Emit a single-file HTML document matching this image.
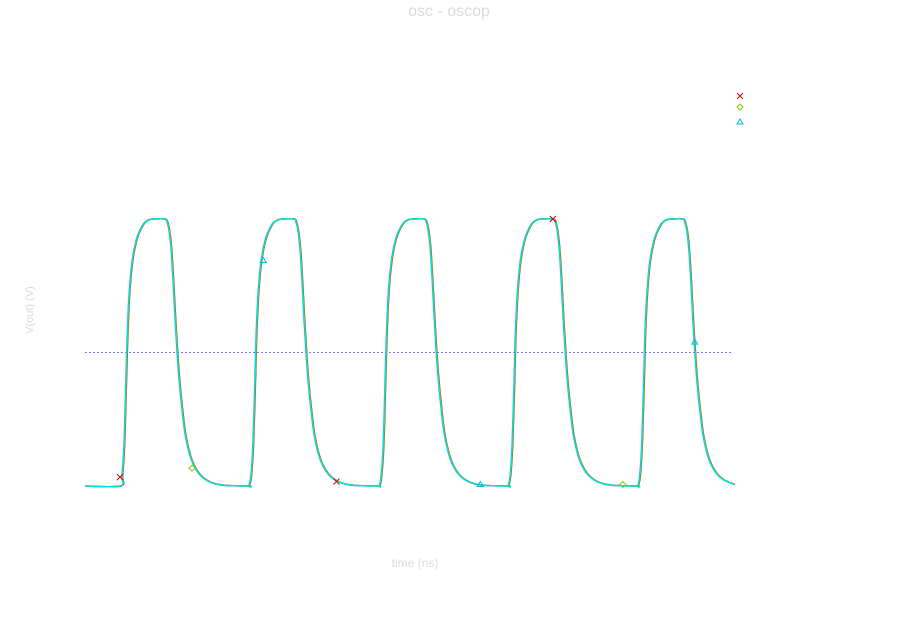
<!DOCTYPE html>
<html><head><meta charset="utf-8"><style>
body{margin:0;background:#fff;}
svg{display:block;font-family:"Liberation Sans",sans-serif;}
</style></head><body>
<svg id="chart" width="898" height="633">
<text x="449" y="16" text-anchor="middle" font-size="16" fill="#dcdcdc">osc - oscop</text>
<text x="415" y="567" text-anchor="middle" font-size="12" fill="#dcdcdc">time (ns)</text>
<text transform="translate(33,310) rotate(-90)" text-anchor="middle" font-size="11" fill="#dcdcdc">V(out) (V)</text>
<g id="plot"></g>
<g>
<path d="M737,93 L743,99 M737,99 L743,93" stroke="#e00"/>
<path d="M740,104 L743,107 L740,110 L737,107 Z" fill="none" stroke="#8c0"/>
<path d="M740,119 L743,124 L737,124 Z" fill="none" stroke="#0bd"/>
</g>
</svg>
<script>
// one period shape (time offset ns, fraction of vdd)
const shapeT=[0,0.3,0.6,0.85,1.08,1.3,1.55,1.85,2.2,2.6,3.1,3.7,4.4,5.2,6.9,7.3,7.6,7.9,8.2,8.5,8.8,9.1,9.5,10.0,10.6,11.3,12.2,13.3,14.7,16.5,19.9];
const shapeV=[0,0.04,0.15,0.35,0.55,0.68,0.77,0.84,0.89,0.93,0.96,0.985,0.997,1,1,0.985,0.95,0.88,0.76,0.62,0.5,0.4,0.3,0.2,0.13,0.08,0.045,0.022,0.008,0.002,0];
const pulseStarts=[5.4,25.3,45.4,65.3,85.3];
const vdd=1.8, threshold=0.9;
const redMarks=[[5.4,0.06],[38.8,0.03],[72.2,1.8]];
const greenMarks=[[16.5,0.12],[83.0,0.01]];
const cyanMarks=[[27.5,1.52],[61.0,0.01],[94.1,0.97]];
const X=t=>85+t*6.48, Y=v=>486-v/vdd*267;
const ns="http://www.w3.org/2000/svg", g=document.getElementById('plot');
function mk(tag,attrs){const e=document.createElementNS(ns,tag);for(const k in attrs)e.setAttribute(k,attrs[k]);g.appendChild(e);return e;}
let pts=[[0,0]];
pulseStarts.forEach(s=>shapeT.forEach((t,i)=>{if(s+t<=100)pts.push([s+t,shapeV[i]*vdd]);}));
pts.push([100,0.01]);
const P=pts.map(p=>[X(p[0]),Y(p[1])]);
let d='M'+P[0][0]+','+P[0][1];
for(let i=0;i<P.length-1;i++){
 const p0=P[Math.max(0,i-1)],p1=P[i],p2=P[i+1],p3=P[Math.min(P.length-1,i+2)];
 const c1=[p1[0]+(p2[0]-p0[0])/6,p1[1]+(p2[1]-p0[1])/6];
 const c2=[p2[0]-(p3[0]-p1[0])/6,p2[1]-(p3[1]-p1[1])/6];
 d+=`C${c1[0].toFixed(1)},${c1[1].toFixed(1)} ${c2[0].toFixed(1)},${c2[1].toFixed(1)} ${p2[0].toFixed(1)},${p2[1].toFixed(1)}`;
}
const thr=mk('line',{x1:X(0),x2:X(100),y1:Y(threshold),y2:Y(threshold),stroke:'#77f','stroke-dasharray':'2,2','stroke-width':1});


[['#e00',0.7,'series-red'],['#8c0',0.35,'series-green'],['#0dd',0,'series-cyan']].forEach(([c,off,n])=>{
 const p=mk('path',{d:d,fill:'none',stroke:c,'stroke-width':1.5,transform:'translate('+off+',0)'});
 
 
});
redMarks.forEach(m=>{const x=X(m[0]),y=Y(m[1]);
 const e=mk('path',{d:`M${x-3},${y-3}L${x+3},${y+3}M${x-3},${y+3}L${x+3},${y-3}`,stroke:'#c00','stroke-width':1});
 
 });
greenMarks.forEach(m=>{const x=X(m[0]),y=Y(m[1]);
 const e=mk('path',{d:`M${x},${y-3}L${x+3},${y}L${x},${y+3}L${x-3},${y}Z`,fill:'none',stroke:'#8c0','stroke-width':1});
 
 });
cyanMarks.forEach(m=>{const x=X(m[0]),y=Y(m[1]);
 const e=mk('path',{d:`M${x},${y-3}L${x+3},${y+2}L${x-3},${y+2}Z`,fill:'none',stroke:'#0bd','stroke-width':1});
 
 });
</script>
</body></html>
